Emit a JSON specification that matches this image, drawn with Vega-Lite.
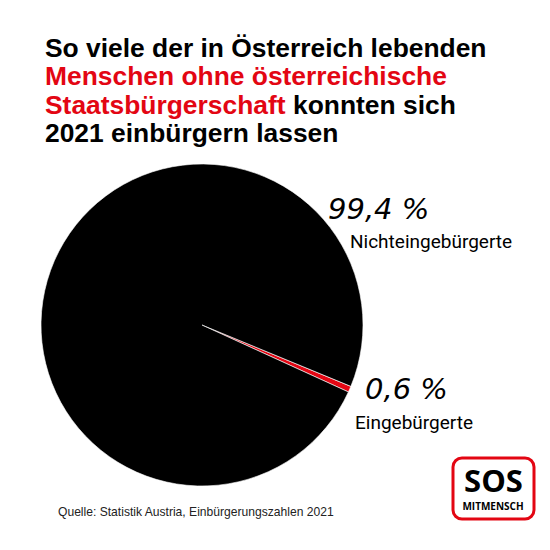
{
  "$schema": "https://vega.github.io/schema/vega-lite/v6.json",
  "width": 550,
  "height": 550,
  "autosize": {"type": "fit", "contains": "padding"},
  "padding": 0,
  "background": "white",
  "config": {"view": {"stroke": null}},
  "layer": [
    {
      "data": {"values": [
        {"gruppe": "Eingebürgerte", "anteil": 0.6},
        {"gruppe": "Nichteingebürgerte", "anteil": 99.4}
      ]},
      "mark": {"type": "arc", "x": 201, "y": 324, "outerRadius": 161, "stroke": "white", "strokeWidth": 0.6},
      "encoding": {
        "theta": {"field": "anteil", "type": "quantitative", "stack": true, "scale": {"range": [1.962, 8.245]}},
        "order": {"field": "anteil", "type": "quantitative", "sort": "ascending"},
        "color": {"field": "gruppe", "type": "nominal", "legend": null,
          "scale": {"domain": ["Eingebürgerte", "Nichteingebürgerte"], "range": ["#e30613", "#000000"]}}
      }
    },
    {
      "data": {"values": [{"zeile": "So viele der in Österreich lebenden"}]},
      "mark": {"type": "text", "x": 44, "y": 56, "align": "left", "baseline": "alphabetic", "font": "Liberation Sans", "fontWeight": "bold", "fontSize": 26.4, "color": "#000000"},
      "encoding": {"text": {"field": "zeile"}}
    },
    {
      "data": {"values": [{"zeile": "Menschen ohne österreichische"}]},
      "mark": {"type": "text", "x": 44, "y": 84.3, "align": "left", "baseline": "alphabetic", "font": "Liberation Sans", "fontWeight": "bold", "fontSize": 26.4, "color": "#e30613"},
      "encoding": {"text": {"field": "zeile"}}
    },
    {
      "data": {"values": [{"zeile": "Staatsbürgerschaft"}]},
      "mark": {"type": "text", "x": 44, "y": 112.5, "align": "left", "baseline": "alphabetic", "font": "Liberation Sans", "fontWeight": "bold", "fontSize": 26.4, "color": "#e30613"},
      "encoding": {"text": {"field": "zeile"}}
    },
    {
      "data": {"values": [{"zeile": "konnten sich"}]},
      "mark": {"type": "text", "x": 292, "y": 112.5, "align": "left", "baseline": "alphabetic", "font": "Liberation Sans", "fontWeight": "bold", "fontSize": 26.4, "color": "#000000"},
      "encoding": {"text": {"field": "zeile"}}
    },
    {
      "data": {"values": [{"zeile": "2021 einbürgern lassen"}]},
      "mark": {"type": "text", "x": 44, "y": 140.7, "align": "left", "baseline": "alphabetic", "font": "Liberation Sans", "fontWeight": "bold", "fontSize": 26.4, "color": "#000000"},
      "encoding": {"text": {"field": "zeile"}}
    },
    {
      "data": {"values": [{"wert": "99,4 %"}]},
      "mark": {"type": "text", "x": 327, "y": 218, "align": "left", "baseline": "alphabetic", "font": "DejaVu Sans", "fontStyle": "italic", "fontSize": 29, "color": "#000000"},
      "encoding": {"text": {"field": "wert"}}
    },
    {
      "data": {"values": [{"gruppe": "Nichteingebürgerte"}]},
      "mark": {"type": "text", "x": 349, "y": 247, "align": "left", "baseline": "alphabetic", "font": "Roboto", "fontSize": 19, "color": "#000000"},
      "encoding": {"text": {"field": "gruppe"}}
    },
    {
      "data": {"values": [{"wert": "0,6 %"}]},
      "mark": {"type": "text", "x": 364, "y": 398, "align": "left", "baseline": "alphabetic", "font": "DejaVu Sans", "fontStyle": "italic", "fontSize": 29, "color": "#000000"},
      "encoding": {"text": {"field": "wert"}}
    },
    {
      "data": {"values": [{"gruppe": "Eingebürgerte"}]},
      "mark": {"type": "text", "x": 354, "y": 428, "align": "left", "baseline": "alphabetic", "font": "Roboto", "fontSize": 19, "color": "#000000"},
      "encoding": {"text": {"field": "gruppe"}}
    },
    {
      "data": {"values": [{"quelle": "Quelle: Statistik Austria, Einbürgerungszahlen 2021"}]},
      "mark": {"type": "text", "x": 57, "y": 515, "align": "left", "baseline": "alphabetic", "font": "Liberation Sans", "fontSize": 12.1, "color": "#222222"},
      "encoding": {"text": {"field": "quelle"}}
    },
    {
      "data": {"values": [{"logo": "SOS Mitmensch"}]},
      "mark": {"type": "rect", "x": 452, "x2": 533, "y": 457, "y2": 518, "cornerRadius": 9, "fill": "white", "stroke": "#e30613", "strokeWidth": 3}
    },
    {
      "data": {"values": [{"logo": "SOS"}]},
      "mark": {"type": "text", "x": 492.5, "y": 490.5, "align": "center", "baseline": "alphabetic", "font": "Open Sans", "fontWeight": "bold", "fontSize": 31, "color": "#000000"},
      "encoding": {"text": {"field": "logo"}}
    },
    {
      "data": {"values": [{"logo": "Linie"}]},
      "mark": {"type": "rule", "x": 460, "x2": 524, "y": 497, "y2": 497, "stroke": "#e30613", "strokeWidth": 2.5},
      "encoding": {}
    },
    {
      "data": {"values": [{"logo": "MITMENSCH"}]},
      "mark": {"type": "text", "x": 492, "y": 509, "align": "center", "baseline": "alphabetic", "font": "Open Sans", "fontWeight": "bold", "fontSize": 10, "color": "#000000"},
      "encoding": {"text": {"field": "logo"}}
    }
  ]
}
